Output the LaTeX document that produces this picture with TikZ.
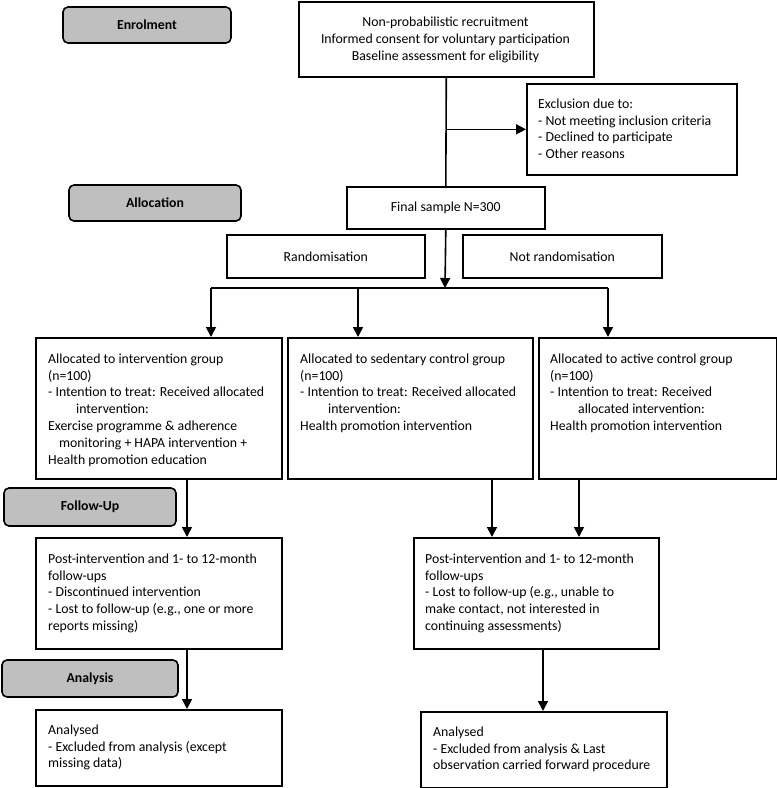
\documentclass[tikz,border=0pt]{standalone}
\usepackage{fontspec}
\setmainfont{Carlito}
\usetikzlibrary{arrows.meta}
\begin{document}
\begin{tikzpicture}[x=1pt,y=-1pt,
  every node/.style={font=\fontsize{13.8}{16.8}\selectfont},
  box/.style={draw, line width=1.6pt, inner sep=0pt, anchor=north west},
  gbox/.style={draw, line width=1.6pt, inner sep=0pt, fill=black!25, rounded corners=5pt, font=\fontsize{13.8}{16.8}\selectfont\bfseries},
  txt/.style={inner sep=0pt, anchor=north west, align=left},
  arr/.style={line width=1.6pt, -{Triangle[length=10pt,width=10pt]}},
  ln/.style={line width=1.6pt}]
\useasboundingbox (0,0) rectangle (777,788);
% phase labels
\node[gbox, minimum width=168pt, minimum height=36pt] (enr) at (147,25) {Enrolment};
\node[gbox, minimum width=172pt, minimum height=36pt] (alc) at (155,203) {Allocation};
\node[gbox, minimum width=172pt, minimum height=38pt] (fu) at (90,507) {Follow-Up};
\node[gbox, minimum width=176pt, minimum height=37pt] (an) at (90,678.5) {Analysis};
% boxes
\node[box, minimum width=295pt, minimum height=75pt] (top) at (298,1) {};
\node[align=center] (topT) at (445.5,40) {Non-probabilistic recruitment\\Informed consent for voluntary participation\\Baseline assessment for eligibility};
\node[box, minimum width=210pt, minimum height=91pt] (excl) at (526,83) {};
\node[txt] (exclT) at (538,98.5) {Exclusion due to:\\- Not meeting inclusion criteria\\- Declined to participate\\- Other reasons};
\node[box, minimum width=198pt, minimum height=42pt] (fin) at (346,186) {};
\node (finT) at (fin.center) {Final sample N=300};
\node[box, minimum width=198pt, minimum height=43pt] (rand) at (226,234) {};
\node (randT) at (rand.center) {Randomisation};
\node[box, minimum width=199pt, minimum height=43pt] (nrand) at (462,234) {};
\node (nrandT) at (nrand.center) {Not randomisation};
\node[box, minimum width=246pt, minimum height=141pt] (int) at (35,337) {};
\node[txt] (intT) at (48,353.5) {Allocated to intervention group\\(n=100)\\- Intention to treat: Received allocated\\\hspace*{28pt}intervention:\\Exercise programme \& adherence\\\hspace*{11pt}monitoring + HAPA intervention +\\Health promotion education};
\node[box, minimum width=245pt, minimum height=141pt] (sed) at (287,337) {};
\node[txt] (sedT) at (300,353.5) {Allocated to sedentary control group\\(n=100)\\- Intention to treat: Received allocated\\\hspace*{28pt}intervention:\\Health promotion intervention};
\node[box, minimum width=238pt, minimum height=141pt] (act) at (538,337) {};
\node[txt] (actT) at (550,353.5) {Allocated to active control group\\(n=100)\\- Intention to treat: Received\\\hspace*{28pt}allocated intervention:\\Health promotion intervention};
\node[box, minimum width=246pt, minimum height=111pt] (fL) at (35,537) {};
\node[txt] (fLT) at (48,553.5) {Post-intervention and 1- to 12-month\\follow-ups\\- Discontinued intervention\\- Lost to follow-up (e.g., one or more\\reports missing)};
\node[box, minimum width=245pt, minimum height=111pt] (fR) at (413,537) {};
\node[txt] (fRT) at (425,553.5) {Post-intervention and 1- to 12-month\\follow-ups\\- Lost to follow-up (e.g., unable to\\make contact, not interested in\\continuing assessments)};
\node[box, minimum width=246pt, minimum height=76pt] (aL) at (35,709) {};
\node[txt] (aLT) at (48,724.5) {Analysed\\- Excluded from analysis (except\\missing data)};
\node[box, minimum width=246pt, minimum height=76pt] (aR) at (420,711) {};
\node[txt] (aRT) at (433,726.5) {Analysed\\- Excluded from analysis \& Last\\observation carried forward procedure};
% coordinates
\coordinate (split) at (445,288);
\coordinate (b1) at (211,288);
\coordinate (b2) at (358,288);
\coordinate (b3) at (608,288);
\coordinate (c1) at (187,0);
\coordinate (c2) at (492,0);
\coordinate (c3) at (579,0);
\coordinate (c4) at (543,0);
% connectors
\draw[ln] (top.south) -- (fin.north);
\draw[arr] (top.south |- excl.west) -- (excl.west);
\draw[arr] (fin.south) -- (split);
\draw[ln] (b1) -- (b3);
\draw[arr] (b1) -- (b1 |- int.north);
\draw[arr] (b2) -- (b2 |- sed.north);
\draw[arr] (b3) -- (b3 |- act.north);
\draw[arr] (c1 |- int.south) -- (c1 |- fL.north);
\draw[arr] (c2 |- sed.south) -- (c2 |- fR.north);
\draw[arr] (c3 |- act.south) -- (c3 |- fR.north);
\draw[arr] (c1 |- fL.south) -- (c1 |- aL.north);
\draw[arr] (c4 |- fR.south) -- (c4 |- aR.north);
\end{tikzpicture}
\end{document}
